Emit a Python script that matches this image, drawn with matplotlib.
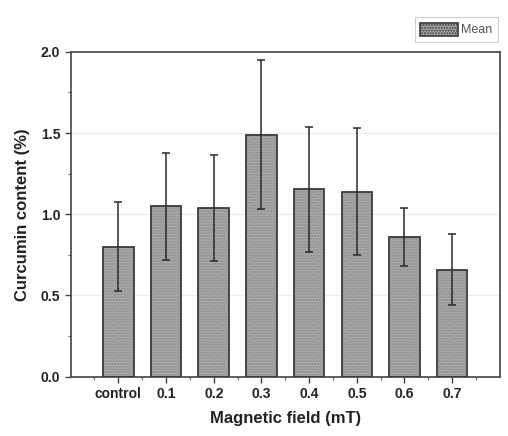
import matplotlib
matplotlib.use('Agg')
import matplotlib.pyplot as plt
from matplotlib.patches import Patch
from matplotlib.ticker import MultipleLocator
import numpy as np

plt.rcParams['font.family'] = ['Liberation Sans', 'DejaVu Sans']

groups = ['control', '0.1', '0.2', '0.3', '0.4', '0.5', '0.6', '0.7']
mean = [0.80, 1.05, 1.04, 1.49, 1.155, 1.14, 0.86, 0.66]
err = [0.275, 0.33, 0.325, 0.46, 0.385, 0.39, 0.18, 0.22]

fig = plt.figure(figsize=(5.08, 4.36), dpi=100)
ax = fig.add_axes([0.139, 0.136, 0.845, 0.745])

x = np.arange(len(groups))
# hatched fill, then dark outline on top
ax.bar(x, mean, width=0.64, color='#a9a9a9', hatch='......', edgecolor='#8c8c8c',
       linewidth=0, zorder=2)
ax.bar(x, mean, width=0.64, fill=False, edgecolor='#3a3a3a', linewidth=1.3, zorder=3)
ax.errorbar(x, mean, yerr=err, fmt='none', ecolor='#2a2a2a', elinewidth=1.1,
            capsize=3, capthick=1.1, zorder=4)

ax.set_xlim(-1, 8)
ax.set_ylim(0, 2.0)
ax.set_xticks(x)
ax.set_xticklabels(groups, fontsize=10, fontweight='bold', color='#222222')
ax.set_xticks(np.arange(-0.5, 8, 1), minor=True)
ax.yaxis.set_major_locator(MultipleLocator(0.5))
ax.yaxis.set_minor_locator(MultipleLocator(0.25))
ax.set_yticks([0.0, 0.5, 1.0, 1.5, 2.0])
ax.set_yticklabels(['0.0', '0.5', '1.0', '1.5', '2.0'], fontsize=10, fontweight='bold', color='#222222')
ax.tick_params(which='major', direction='out', length=4, width=1, color='#444444')
ax.tick_params(which='minor', direction='out', length=2.5, width=0.8, color='#666666')
ax.grid(axis='y', color='#ececec', linewidth=0.8, zorder=0)
for s in ax.spines.values():
    s.set_color('#444444')
    s.set_linewidth(1.2)

ax.set_xlabel('Magnetic field (mT)', fontsize=12, fontweight='bold', color='#222222', labelpad=7)
ax.set_ylabel('Curcumin content (%)', fontsize=12, fontweight='bold', color='#222222', labelpad=8)

handle = Patch(facecolor='#a9a9a9', edgecolor='#3a3a3a', hatch='......', linewidth=1.2)
leg = fig.legend([handle], ['Mean'], loc='upper right', bbox_to_anchor=(0.992, 0.975),
                 fontsize=9, frameon=True, fancybox=False, handlelength=3.0,
                 handleheight=1.2, borderpad=0.45, handletextpad=0.25, labelcolor='#555555')
leg.get_frame().set_edgecolor('#c4c4c4')
leg.get_frame().set_linewidth(0.8)

fig.savefig('out.png', dpi=100)
